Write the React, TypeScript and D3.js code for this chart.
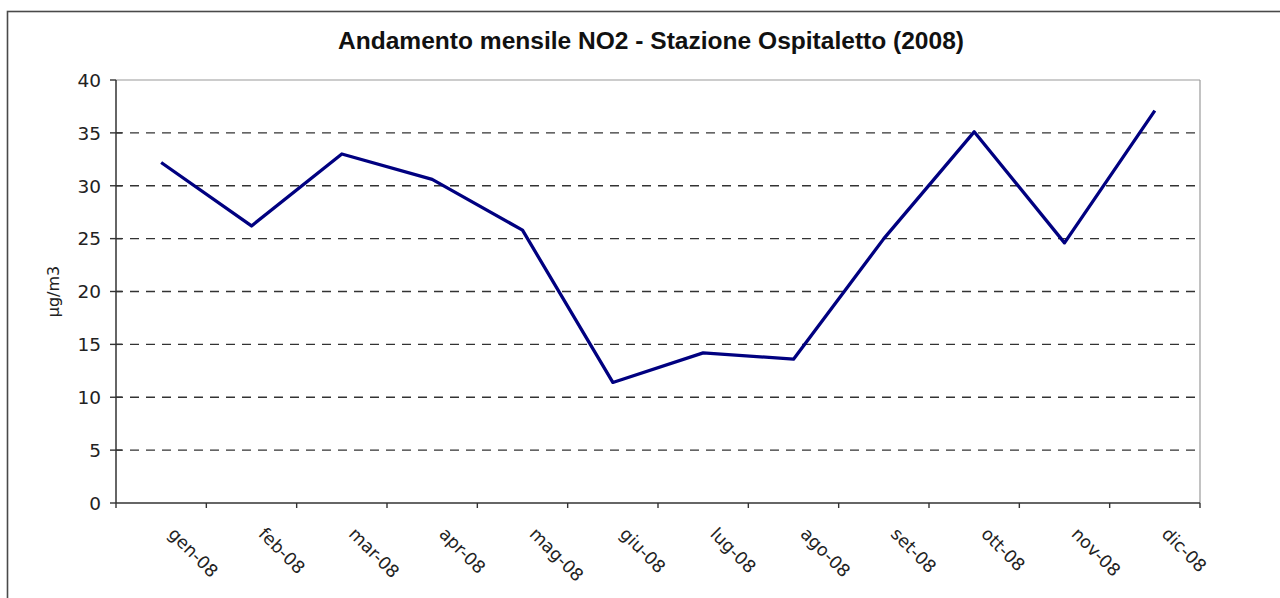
import React from "react";
import * as d3 from "d3";

const categories: string[] = [
  "gen-08", "feb-08", "mar-08", "apr-08", "mag-08", "giu-08",
  "lug-08", "ago-08", "set-08", "ott-08", "nov-08", "dic-08",
];
const no2Values: number[] = [32.2, 26.2, 33.0, 30.6, 25.8, 11.4, 14.2, 13.6, 25.0, 35.1, 24.6, 37.1];
const yTicks: number[] = [0, 5, 10, 15, 20, 25, 30, 35, 40];
const gridValues: number[] = [5, 10, 15, 20, 25, 30, 35];
const titleText = "Andamento mensile NO2 - Stazione Ospitaletto (2008)";
const yLabelText = "µg/m3";

const W = 1280;
const H = 598;
const PLOT = { left: 116, right: 1200, top: 80, bottom: 503 };

export default function App() {
  const x = d3.scaleBand<string>().domain(categories).range([PLOT.left, PLOT.right]).padding(0);
  const y = d3.scaleLinear().domain([0, 40]).range([PLOT.bottom, PLOT.top]);
  const line = d3
    .line<number>()
    .x((_, i) => (x(categories[i]) as number) + x.bandwidth() / 2)
    .y((d) => y(d));

  const tickXs = d3.range(categories.length + 1).map((i) => PLOT.left + i * x.step());
  const axisFont = "'DejaVu Sans', Tahoma, Verdana, sans-serif";

  return (
    <svg
      width={W}
      height={H}
      style={{ position: "absolute", left: 0, top: 0, background: "#fff" }}
    >
      <rect x={0} y={0} width={W} height={H} fill="#fff" />
      {/* outer chart border */}
      <rect x={7.5} y={11.5} width={1400} height={800} fill="none" stroke="#4a4a4a" strokeWidth={1.6} />

      {/* title */}
      <text
        x={651}
        y={49}
        textAnchor="middle"
        fontFamily="'Liberation Sans', Arial, sans-serif"
        fontWeight="bold"
        fontSize={23}
        textLength={626}
        lengthAdjust="spacingAndGlyphs"
        fill="#111"
      >
        {titleText}
      </text>

      {/* plot area border (top/right) */}
      <line x1={PLOT.left} x2={PLOT.right} y1={PLOT.top} y2={PLOT.top} stroke="#9a9a9a" strokeWidth={1.2} />
      <line x1={PLOT.right} x2={PLOT.right} y1={PLOT.top} y2={PLOT.bottom} stroke="#9a9a9a" strokeWidth={1.2} />

      {/* gridlines */}
      {gridValues.map((v) => (
        <line
          key={"g" + v}
          x1={PLOT.left}
          x2={PLOT.right}
          y1={y(v)}
          y2={y(v)}
          stroke="#333"
          strokeWidth={1.4}
          strokeDasharray="9,7"
          strokeDashoffset={2}
        />
      ))}

      {/* y axis */}
      <line x1={PLOT.left} x2={PLOT.left} y1={PLOT.top} y2={PLOT.bottom} stroke="#333" strokeWidth={1.5} />
      {yTicks.map((v) => (
        <g key={"yt" + v}>
          <line x1={PLOT.left - 6} x2={v === 40 || v === 0 ? PLOT.left : PLOT.left + 6} y1={y(v)} y2={y(v)} stroke="#333" strokeWidth={1.4} />
          <text
            x={101}
            y={y(v)}
            dy="0.37em"
            textAnchor="end"
            fontFamily={axisFont}
            fontSize={18.5}
            fill="#222"
          >
            {v}
          </text>
        </g>
      ))}

      {/* x axis */}
      <line x1={PLOT.left} x2={PLOT.right} y1={PLOT.bottom} y2={PLOT.bottom} stroke="#333" strokeWidth={1.5} />
      {tickXs.map((tx, i) => (
        <line key={"xt" + i} x1={tx} x2={tx} y1={PLOT.bottom} y2={PLOT.bottom + 5} stroke="#333" strokeWidth={1.4} />
      ))}
      {categories.map((c) => {
        const cx = (x(c) as number) + x.bandwidth() / 2;
        return (
          <text
            key={"xl" + c}
            transform={`translate(${cx + 6},${535}) rotate(45)`}
            textAnchor="start"
            fontFamily={axisFont}
            fontSize={17.5}
            fill="#222"
          >
            {c}
          </text>
        );
      })}

      {/* y axis label */}
      <text
        transform={`translate(59,${(PLOT.top + PLOT.bottom) / 2}) rotate(-90)`}
        textAnchor="middle"
        fontFamily={axisFont}
        fontSize={16}
        fill="#222"
      >
        {yLabelText}
      </text>

      {/* data line */}
      <path d={line(no2Values) || ""} fill="none" stroke="#000080" strokeWidth={3.3} strokeLinejoin="round" />
    </svg>
  );
}
